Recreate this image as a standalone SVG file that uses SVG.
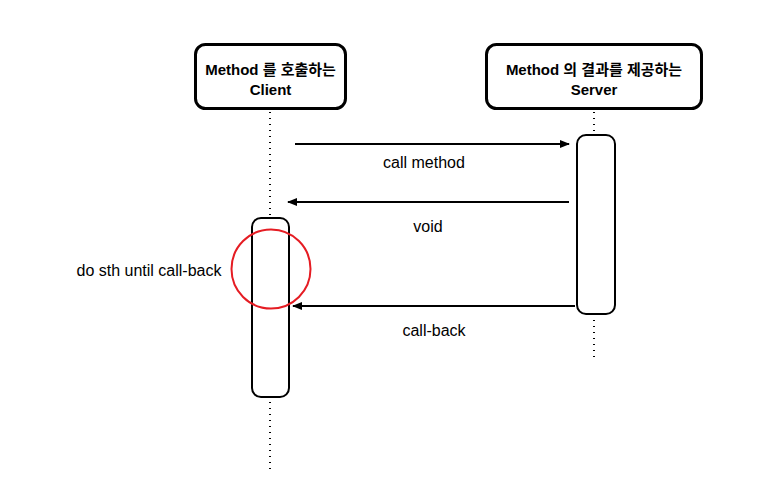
<svg xmlns="http://www.w3.org/2000/svg" width="763" height="501" viewBox="0 0 763 501">
<style>
.box{fill:#fff;stroke:#000;stroke-width:3}
.act{fill:#fff;stroke:#000;stroke-width:2}
.life{stroke:#000;stroke-width:2;stroke-dasharray:1 5;fill:none}
.hd{font-family:"Liberation Sans","Noto Sans CJK KR",sans-serif;font-size:15px;font-weight:bold;text-anchor:middle}
.lbl{font-family:"Liberation Sans","Noto Sans CJK KR",sans-serif;font-size:16px;text-anchor:middle}
.msg{stroke:#000;stroke-width:2;fill:none;marker-end:url(#ah)}
</style>
<defs>
<marker id="ah" viewBox="0 0 10 10" refX="9" refY="5" markerWidth="5" markerHeight="5" orient="auto" markerUnits="strokeWidth">
<path d="M0,1 L10,5 L0,9 z" fill="#000"/>
</marker>
</defs>
<rect width="763" height="501" fill="#fff"/>
<g id="lifelines">
<path class="life" d="M270,112 V216 M270,402 V470 M594,112 V134 M594,320 V358"/>
</g>
<g id="client">
<rect class="box" x="195.5" y="44.5" width="150" height="64" rx="10"/>
<text class="hd" x="270.5" y="75">Method 를 호출하는</text>
<text class="hd" x="270.5" y="95">Client</text>
</g>
<g id="server">
<rect class="box" x="486.5" y="44.5" width="215" height="64" rx="10"/>
<text class="hd" x="594" y="75">Method 의 결과를 제공하는</text>
<text class="hd" x="594" y="95">Server</text>
</g>
<g id="client-activation">
<rect class="act" x="252" y="218" width="37" height="179" rx="9"/>
</g>
<g id="server-activation">
<rect class="act" x="577" y="135" width="38" height="179" rx="9"/>
</g>
<g id="connectors">
<line class="msg" x1="295" y1="144" x2="569" y2="144"/>
<line class="msg" x1="569" y1="202" x2="288" y2="202"/>
<line class="msg" x1="575" y1="306" x2="293" y2="306"/>
</g>
<g id="labels">
<text class="lbl" x="424" y="168">call method</text>
<text class="lbl" x="428" y="232">void</text>
<text class="lbl" x="434" y="336">call-back</text>
<text class="lbl" x="149" y="276">do sth until call-back</text>
</g>
<g id="highlight">
<circle cx="271" cy="269" r="39.5" fill="none" stroke="#e51c23" stroke-width="2"/>
</g>
</svg>
